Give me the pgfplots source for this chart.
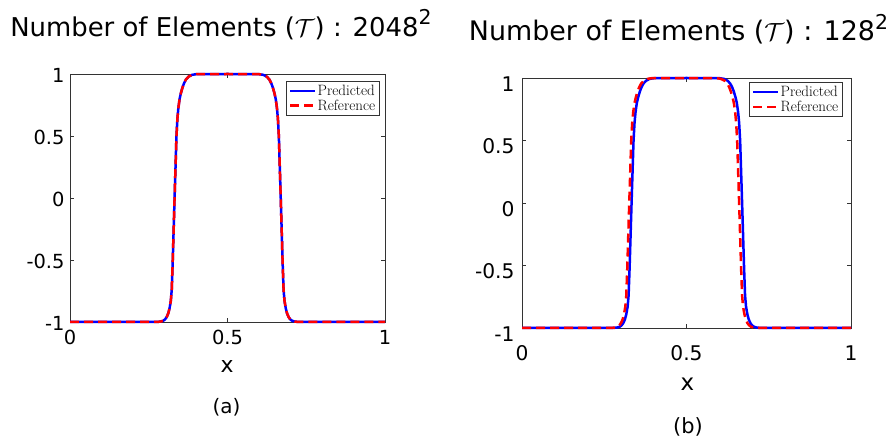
\documentclass[border=0pt]{standalone}
\usepackage{fontspec}
\newfontfamily\dejavu{DejaVu Sans}
\usepackage{pgfplots}
\usepackage{pgfplotstable}
\pgfplotsset{compat=1.18}

% Left panel (2048^2): predicted and reference coincide
\pgfplotstableread{
x u
0 -1
0.272 -1
0.287 -0.997
0.296 -0.99
0.302 -0.978
0.307 -0.96
0.312 -0.93
0.316 -0.89
0.320 -0.83
0.323 -0.74
0.326 -0.52
0.329 -0.26
0.332 0
0.335 0.25
0.338 0.5
0.341 0.64
0.344 0.725
0.348 0.8
0.352 0.845
0.357 0.89
0.362 0.925
0.368 0.955
0.376 0.978
0.387 0.993
0.402 0.999
0.5 1
0.599 0.999
0.614 0.993
0.625 0.978
0.633 0.955
0.639 0.925
0.644 0.89
0.649 0.845
0.653 0.8
0.657 0.725
0.660 0.64
0.663 0.5
0.666 0.25
0.669 0
0.672 -0.26
0.675 -0.52
0.678 -0.74
0.681 -0.83
0.685 -0.89
0.689 -0.93
0.694 -0.96
0.699 -0.978
0.705 -0.99
0.714 -0.997
0.729 -1
1 -1
}\leftdata

% Right panel (128^2): predicted
\pgfplotstableread{
x u
0 -1
0.273 -1
0.288 -0.997
0.297 -0.99
0.303 -0.978
0.308 -0.96
0.313 -0.93
0.317 -0.89
0.321 -0.83
0.324 -0.74
0.327 -0.52
0.330 -0.26
0.333 0
0.336 0.25
0.339 0.5
0.342 0.64
0.345 0.725
0.349 0.8
0.353 0.845
0.358 0.89
0.363 0.925
0.369 0.955
0.377 0.978
0.388 0.993
0.403 0.999
0.5 1
0.599 0.999
0.614 0.993
0.625 0.978
0.633 0.955
0.639 0.925
0.644 0.89
0.649 0.845
0.653 0.8
0.657 0.725
0.660 0.64
0.663 0.5
0.666 0.25
0.669 0
0.672 -0.26
0.675 -0.52
0.678 -0.74
0.681 -0.83
0.685 -0.89
0.689 -0.93
0.694 -0.96
0.699 -0.978
0.705 -0.99
0.714 -0.997
0.729 -1
1 -1
}\rightpred

% Right panel (128^2): reference
\pgfplotstableread{
x u
0 -1
0.266 -1
0.281 -0.997
0.290 -0.99
0.296 -0.978
0.301 -0.96
0.306 -0.93
0.310 -0.89
0.314 -0.83
0.317 -0.74
0.320 -0.52
0.323 -0.26
0.326 0
0.329 0.25
0.332 0.5
0.335 0.64
0.338 0.725
0.342 0.8
0.346 0.845
0.351 0.89
0.356 0.925
0.362 0.955
0.370 0.978
0.381 0.993
0.396 0.999
0.5 1
0.590 0.999
0.605 0.993
0.616 0.978
0.624 0.955
0.630 0.925
0.635 0.89
0.640 0.845
0.644 0.8
0.648 0.725
0.651 0.64
0.654 0.5
0.657 0.25
0.660 0
0.663 -0.26
0.666 -0.52
0.669 -0.74
0.672 -0.83
0.676 -0.89
0.680 -0.93
0.685 -0.96
0.690 -0.978
0.696 -0.99
0.705 -0.997
0.720 -1
1 -1
}\rightref

\pgfplotsset{
  panel/.style={
    scale only axis,
    xmin=0, xmax=1, ymin=-1, ymax=1,
    xtick={0,0.5,1}, ytick={-1,-0.5,0,0.5,1},
    xticklabels={0,0.5,1}, yticklabels={-1,-0.5,0,0.5,1},
    tick align=inside, major tick length=4bp,
    axis line style={black!80, line width=0.6bp},
    every tick/.style={black!80, line width=0.6bp},
    clip=false,
    legend cell align=left,
    legend image code/.code={\draw[##1, line width=2.2bp] (0bp,0bp) -- (25bp,0bp);},
    legend style={draw=black!80, line width=0.6bp, fill=white,
      inner xsep=3bp, inner ysep=2bp,
      nodes={inner sep=1.5bp, text depth=0.15em},
      font=\fontsize{15}{18}\selectfont, anchor=north east},
  },
  pred/.style={blue, line width=2.5bp, line join=round},
  refr/.style={red, line width=2.5bp, dash pattern=on 9bp off 5bp, line join=round},
}

\begin{document}
\begin{tikzpicture}
\path (0,0) rectangle (893bp,442bp);

% ---------- Left panel ----------
\begin{axis}[panel,
  at={(70bp,120bp)}, anchor=south west,
  width=315bp, height=248bp,
  xticklabel style={font=\dejavu\fontsize{19.5}{20}\selectfont, anchor=base, yshift=-23bp},
  yticklabel style={font=\dejavu\fontsize{19.5}{20}\selectfont, anchor=east, xshift=-2bp, yshift=-1.5bp},
  legend style={at={(0.9841,0.972)}},
]
\addplot[pred] table[x=x,y=u] {\leftdata};
\addplot[refr] table[x=x,y=u] {\leftdata};
\legend{Predicted, Reference}
\end{axis}

% ---------- Right panel ----------
\begin{axis}[panel,
  at={(522bp,114bp)}, anchor=south west,
  width=329bp, height=250bp,
  xticklabel style={font=\dejavu\fontsize{20.3}{21}\selectfont, anchor=base, yshift=-33bp},
  yticklabel style={font=\dejavu\fontsize{20.3}{21}\selectfont, anchor=east, xshift=-4bp, yshift=-6bp},
  legend style={at={(0.9757,0.984)}},
]
\addplot[pred] table[x=x,y=u] {\rightpred};
\addplot[refr] table[x=x,y=u] {\rightref};
\legend{Predicted, Reference}
\end{axis}

% ---------- Titles, labels, captions ----------
\node[anchor=base, inner sep=0pt, font=\dejavu\fontsize{26}{26}\selectfont] at (221bp,405.3bp)
  {Number of Elements ($\mathcal{T}$) : 2048\raisebox{11.7bp}{\fontsize{20.5}{20.5}\selectfont 2}};
\node[anchor=base, inner sep=0pt, font=\dejavu\fontsize{27}{27}\selectfont] at (678.5bp,401.3bp)
  {Number of Elements ($\mathcal{T}$) : 128\raisebox{10.7bp}{\fontsize{20.5}{20.5}\selectfont 2}};

\node[anchor=base, inner sep=0pt, font=\dejavu\fontsize{22}{22}\selectfont] at (227bp,69.3bp) {x};
\node[anchor=base, inner sep=0pt, font=\dejavu\fontsize{23}{23}\selectfont] at (687.3bp,51.3bp) {x};

\node[anchor=base, inner sep=0pt, font=\dejavu\fontsize{20}{20}\selectfont] at (226.5bp,28.6bp) {(a)};
\node[anchor=base, inner sep=0pt, font=\dejavu\fontsize{21}{21}\selectfont] at (688bp,9bp) {(b)};
\end{tikzpicture}
\end{document}
